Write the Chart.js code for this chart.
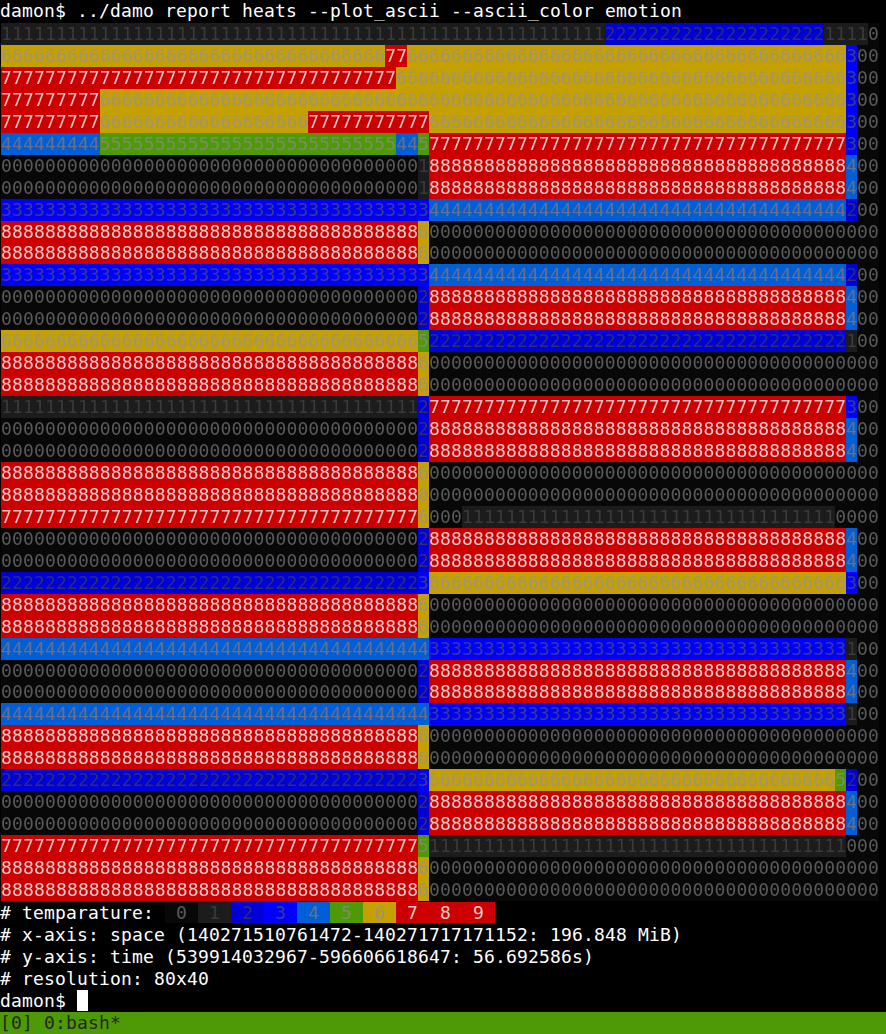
<!DOCTYPE html>
<html>
<head>
<meta charset="utf-8">
<script src="https://cdn.jsdelivr.net/npm/chart.js@4/dist/chart.umd.min.js"></script>
<style>
  html, body { margin: 0; padding: 0; background: #000; }
  body { width: 886px; height: 1034px; overflow: hidden; }
  .line {
    height: 22px; line-height: 22px; white-space: pre;
    font-family: "DejaVu Sans Mono", monospace; font-size: 18px;
    letter-spacing: 0.163px; color: #ffffff;
  }
  #wrap { position: relative; width: 880px; height: 880px; }
  #status { background: #4e9a06; color: #262626; }
  .cursor { display: inline-block; width: 11px; height: 21px; background: #ffffff; vertical-align: top; }
</style>
</head>
<body>
<div class="line">damon$ ../damo report heats --plot_ascii --ascii_color emotion</div>
<div id="wrap"><canvas id="heat"></canvas></div>
<div class="line" id="legend"># temparature: </div>
<div class="line"># x-axis: space (140271510761472-140271717171152: 196.848 MiB)</div>
<div class="line"># y-axis: time (539914032967-596606618647: 56.692586s)</div>
<div class="line"># resolution: 80x40</div>
<div class="line">damon$ <span class="cursor"></span></div>
<div class="line" id="status">[0] 0:bash*</div>
<script>
// ---- data: temperature levels, one string of 80 levels per time row ----
const heatLevels = ['0', '1', '2', '3', '4', '5', '6', '7', '8', '9'];
const heatRows = [
  '11111111111111111111111111111111111111111111111111111112222222222222222222211110',
  '66666666666666666666666666666666666776666666666666666666666666666666666666666300',
  '77777777777777777777777777777777777766666666666666666666666666666666666666666300',
  '77777777766666666666666666666666666666666666666666666666666666666666666666666300',
  '77777777766666666666666666667777777777766666666666666666666666666666666666666300',
  '44444444455555555555555555555555555544577777777777777777777777777777777777777300',
  '00000000000000000000000000000000000000188888888888888888888888888888888888888400',
  '00000000000000000000000000000000000000188888888888888888888888888888888888888400',
  '33333333333333333333333333333333333333344444444444444444444444444444444444444200',
  '88888888888888888888888888888888888888600000000000000000000000000000000000000000',
  '88888888888888888888888888888888888888600000000000000000000000000000000000000000',
  '33333333333333333333333333333333333333344444444444444444444444444444444444444200',
  '00000000000000000000000000000000000000288888888888888888888888888888888888888400',
  '00000000000000000000000000000000000000288888888888888888888888888888888888888400',
  '66666666666666666666666666666666666666522222222222222222222222222222222222222100',
  '88888888888888888888888888888888888888600000000000000000000000000000000000000000',
  '88888888888888888888888888888888888888600000000000000000000000000000000000000000',
  '11111111111111111111111111111111111111277777777777777777777777777777777777777300',
  '00000000000000000000000000000000000000288888888888888888888888888888888888888400',
  '00000000000000000000000000000000000000288888888888888888888888888888888888888400',
  '88888888888888888888888888888888888888600000000000000000000000000000000000000000',
  '88888888888888888888888888888888888888600000000000000000000000000000000000000000',
  '77777777777777777777777777777777777777600011111111111111111111111111111111110000',
  '00000000000000000000000000000000000000288888888888888888888888888888888888888400',
  '00000000000000000000000000000000000000288888888888888888888888888888888888888400',
  '22222222222222222222222222222222222222366666666666666666666666666666666666666300',
  '88888888888888888888888888888888888888600000000000000000000000000000000000000000',
  '88888888888888888888888888888888888888600000000000000000000000000000000000000000',
  '44444444444444444444444444444444444444433333333333333333333333333333333333333100',
  '00000000000000000000000000000000000000288888888888888888888888888888888888888400',
  '00000000000000000000000000000000000000288888888888888888888888888888888888888400',
  '44444444444444444444444444444444444444433333333333333333333333333333333333333100',
  '88888888888888888888888888888888888888600000000000000000000000000000000000000000',
  '88888888888888888888888888888888888888600000000000000000000000000000000000000000',
  '22222222222222222222222222222222222222366666666666666666666666666666666666665200',
  '00000000000000000000000000000000000000288888888888888888888888888888888888888400',
  '00000000000000000000000000000000000000288888888888888888888888888888888888888400',
  '77777777777777777777777777777777777777511111111111111111111111111111111111111000',
  '88888888888888888888888888888888888888600000000000000000000000000000000000000000',
  '88888888888888888888888888888888888888600000000000000000000000000000000000000000'
];

// ---- styles ----
const heatBg = ['#080808', '#1c1c1c', '#0000d7', '#0000ff', '#005fd7',
                '#4e9a06', '#c4a000', '#cc0000', '#cc0000', '#cc0000'];
const heatFg = ['#5a5a5a', '#3a3a3a', '#2e2e70', '#3c3c8a', '#6a6e86',
                '#7e8a6c', '#a09478', '#dcc6c6', '#e8cccc', '#e8cccc'];
const CELL_W = 11, CELL_H = 22;
const FONT = '18px "DejaVu Sans Mono"';

// legend (text)
const legend = document.getElementById('legend');
heatLevels.forEach((lv, i) => {
  const s = document.createElement('span');
  s.textContent = ' ' + lv + ' ';
  s.style.background = heatBg[i];
  s.style.color = heatFg[i];
  legend.appendChild(s);
});

// cell background sprites used as point styles
const sprites = heatLevels.map((lv, i) => {
  const c = document.createElement('canvas');
  c.width = CELL_W; c.height = CELL_H;
  const g = c.getContext('2d');
  g.fillStyle = heatBg[i];
  g.fillRect(0, 0, CELL_W, CELL_H);
  return c;
});

const nCols = heatRows[0].length, nRows = heatRows.length;
const datasets = heatLevels.map((lv, i) => {
  const pts = [];
  heatRows.forEach((row, r) => {
    for (let c = 0; c < row.length; c++) if (row[c] === lv) pts.push({ x: c, y: r });
  });
  return {
    label: lv,
    data: pts,
    pointStyle: sprites[i],
    pointRadius: 1,
    pointHoverRadius: 1,
    borderWidth: 0,
    showLine: false
  };
});

const digitPlugin = {
  id: 'digits',
  afterDatasetsDraw(chart) {
    const ctx = chart.ctx;
    ctx.save();
    ctx.font = FONT;
    ctx.textAlign = 'center';
    ctx.textBaseline = 'alphabetic';
    chart.data.datasets.forEach((ds, d) => {
      const meta = chart.getDatasetMeta(d);
      ctx.fillStyle = heatFg[d];
      meta.data.forEach(el => ctx.fillText(ds.label, el.x, el.y + 6));
    });
    ctx.restore();
  }
};

new Chart(document.getElementById('heat'), {
  type: 'scatter',
  data: { datasets },
  options: {
    responsive: true,
    maintainAspectRatio: false,
    animation: false,
    events: [],
    layout: { padding: 0 },
    scales: {
      x: { type: 'linear', min: -0.5, max: nCols - 0.5, display: false },
      y: { type: 'linear', min: -0.5, max: nRows - 0.5, reverse: true, display: false }
    },
    plugins: { legend: { display: false }, tooltip: { enabled: false } }
  },
  plugins: [digitPlugin]
});
</script>
</body>
</html>
